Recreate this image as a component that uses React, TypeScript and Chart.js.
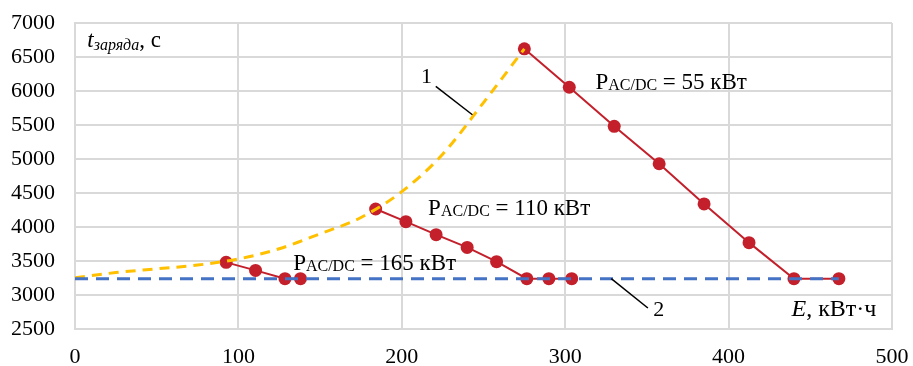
import React, { useEffect, useRef } from "react";
import { Chart, registerables } from "chart.js";

Chart.register(...registerables);

// Curve 1 (yellow dashed)
const curve1E = [0, 25, 50, 75, 100, 125, 150, 175, 200, 225, 250, 275];
const curve1T = [3255, 3330, 3385, 3440, 3530, 3680, 3900, 4140, 4520, 5070, 5830, 6620];

// Line 2 (blue dashed)
const line2E = [0, 467.5];
const line2T = [3240, 3240];

// P = 55 kW
const p55E = [275, 302.5, 330, 357.5, 385, 412.5, 440, 467.5];
const p55T = [6620, 6055, 5480, 4930, 4340, 3770, 3240, 3240];

// P = 110 kW
const p110E = [184, 202.5, 221, 240, 258, 276.5, 290, 304];
const p110T = [4265, 4078, 3887, 3700, 3490, 3240, 3240, 3240];

// P = 165 kW
const p165E = [92.5, 110.5, 128.5, 138];
const p165T = [3480, 3362, 3240, 3240];

// Leader lines for labels "1" and "2"
const leader1E = [220.8, 243.2];
const leader1T = [6068, 5651];
const leader2E = [328.2, 350.6];
const leader2T = [3240, 2809];

const xTicks = [0, 100, 200, 300, 400, 500];
const yTicks = [2500, 3000, 3500, 4000, 4500, 5000, 5500, 6000, 6500, 7000];

const SERIF = '"Liberation Serif", "Times New Roman", serif';

const zip = (xs: number[], ys: number[]) => xs.map((x, i) => ({ x, y: ys[i] }));

type Seg = { t: string; size: number; italic?: boolean; dy?: number };
type Ann = { x: number; y: number; align?: "left" | "center"; segs: Seg[] };

const annotations: Ann[] = [
  {
    x: 7.5,
    y: 6640,
    segs: [
      { t: "t", size: 23, italic: true },
      { t: "заряда", size: 16, italic: true, dy: 3 },
      { t: ", с", size: 23 },
    ],
  },
  {
    x: 318.5,
    y: 6030,
    segs: [
      { t: "P", size: 23 },
      { t: "AC/DC", size: 16, dy: 1 },
      { t: " = 55 кВт", size: 23 },
    ],
  },
  {
    x: 216.1,
    y: 4181,
    segs: [
      { t: "P", size: 23 },
      { t: "AC/DC", size: 16, dy: 1 },
      { t: " = 110 кВт", size: 23 },
    ],
  },
  {
    x: 133.5,
    y: 3372,
    segs: [
      { t: "P", size: 23 },
      { t: "AC/DC", size: 16, dy: 1 },
      { t: " = 165 кВт", size: 23 },
    ],
  },
  {
    x: 438.5,
    y: 2690,
    segs: [
      { t: "E", size: 24, italic: true },
      { t: ", кВт·ч", size: 24 },
    ],
  },
  { x: 215.1, y: 6118, align: "center", segs: [{ t: "1", size: 22 }] },
  { x: 357.2, y: 2685, align: "center", segs: [{ t: "2", size: 22 }] },
];

const textPlugin = {
  id: "richText",
  afterDatasetsDraw(chart: any) {
    const ctx = chart.ctx;
    const xs = chart.scales.x;
    const ys = chart.scales.y;
    ctx.save();
    ctx.fillStyle = "#000";
    ctx.textBaseline = "alphabetic";
    ctx.textAlign = "left";
    for (const a of annotations) {
      let px = xs.getPixelForValue(a.x);
      const py = ys.getPixelForValue(a.y);
      const fontOf = (s: Seg) => `${s.italic ? "italic " : ""}${s.size}px ${SERIF}`;
      if (a.align === "center") {
        let w = 0;
        for (const s of a.segs) {
          ctx.font = fontOf(s);
          w += ctx.measureText(s.t).width;
        }
        px -= w / 2;
      }
      for (const s of a.segs) {
        ctx.font = fontOf(s);
        ctx.fillText(s.t, px, py + (s.dy || 0));
        px += ctx.measureText(s.t).width;
      }
    }
    ctx.restore();
  },
};

export default function App() {
  const ref = useRef<HTMLCanvasElement | null>(null);
  useEffect(() => {
    if (!ref.current) return;
    const red = "#C3202B";
    const redPts = (d: any[]) => ({
      data: d,
      showLine: true,
      borderColor: red,
      backgroundColor: red,
      borderWidth: 2,
      pointRadius: 6.5,
      pointBorderWidth: 0,
      pointBackgroundColor: red,
    });
    const chart = new Chart(ref.current, {
      type: "scatter",
      data: {
        datasets: [
          {
            data: zip(leader1E, leader1T),
            showLine: true,
            borderColor: "#000",
            borderWidth: 1.5,
            pointRadius: 0,
          },
          {
            data: zip(leader2E, leader2T),
            showLine: true,
            borderColor: "#000",
            borderWidth: 1.5,
            pointRadius: 0,
          },
          {
            data: zip(line2E, line2T),
            showLine: true,
            borderColor: "#4472C4",
            borderWidth: 3,
            borderDash: [13, 8],
            pointRadius: 0,
          },
          {
            data: zip(curve1E, curve1T),
            showLine: true,
            borderColor: "#FFC000",
            borderWidth: 3,
            borderDash: [10, 7],
            pointRadius: 0,
            cubicInterpolationMode: "monotone",
          },
          redPts(zip(p55E, p55T)),
          redPts(zip(p110E, p110T)),
          redPts(zip(p165E, p165T)),
        ] as any,
      },
      options: {
        animation: false,
        responsive: false,
        events: [],
        layout: { padding: { top: 23, right: 21, bottom: 0, left: 0 } },
        plugins: {
          legend: { display: false },
          tooltip: { enabled: false },
          title: { display: false },
        },
        scales: {
          x: {
            type: "linear",
            min: 0,
            max: 500,
            afterBuildTicks: (s: any) => {
              s.ticks = xTicks.map((v) => ({ value: v }));
            },
            afterFit: (s: any) => {
              s.height = 37;
              s.paddingLeft = 0;
              s.paddingRight = 0;
            },
            ticks: {
              color: "#000",
              font: { family: SERIF, size: 22 },
              padding: 15,
              maxRotation: 0,
              autoSkip: false,
              callback: (v: any) => String(v),
            },
            grid: { color: "#D9D9D9", lineWidth: 2, drawTicks: false },
            border: { color: "#D9D9D9", width: 2 },
          },
          y: {
            type: "linear",
            min: 2500,
            max: 7000,
            afterBuildTicks: (s: any) => {
              s.ticks = yTicks.map((v) => ({ value: v }));
            },
            afterFit: (s: any) => {
              s.width = 75;
              s.paddingTop = 0;
              s.paddingBottom = 0;
            },
            ticks: {
              color: "#000",
              font: { family: SERIF, size: 22 },
              padding: 20,
              autoSkip: false,
              callback: (v: any) => String(v),
            },
            grid: { color: "#D9D9D9", lineWidth: 2, drawTicks: false },
            border: { color: "#D9D9D9", width: 2 },
          },
        },
      } as any,
      plugins: [textPlugin],
    });
    return () => chart.destroy();
  }, []);
  return (
    <div style={{ position: "absolute", left: 0, top: 0, width: 913, height: 366, background: "#fff" }}>
      <canvas ref={ref} width={913} height={366} style={{ width: 913, height: 366, display: "block" }} />
    </div>
  );
}
